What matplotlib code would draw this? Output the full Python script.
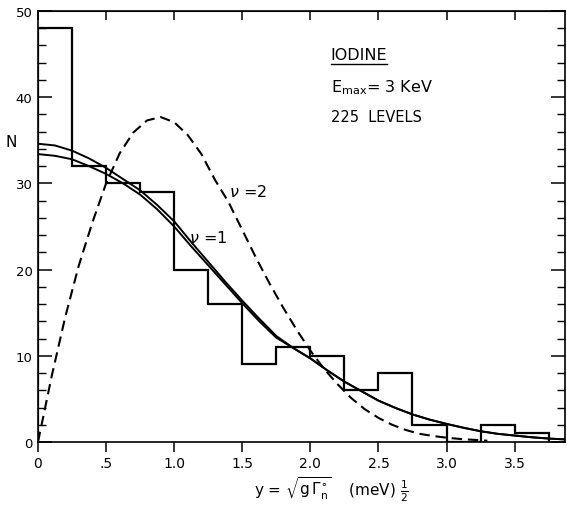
import numpy as np
import matplotlib
matplotlib.use('Agg')
import matplotlib.pyplot as plt
from matplotlib.lines import Line2D

# histogram of reduced widths, bins of 0.25
bin_edges = [0, 0.25, 0.5, 0.75, 1.0, 1.25, 1.5, 1.75, 2.0, 2.25, 2.5, 2.75, 3.0, 3.25, 3.5, 3.75]
counts = [48, 32, 30, 29, 20, 16, 9, 11, 10, 6, 8, 2, 0, 2, 1]

# nu=1 curves (two solid lines)
y_nu1 = [0, 0.125, 0.25, 0.375, 0.5, 0.625, 0.75, 0.875, 1.0, 1.125, 1.25, 1.375, 1.5, 1.625,
         1.75, 1.875, 2.0, 2.125, 2.25, 2.375, 2.5, 2.625, 2.75, 2.875, 3.0, 3.125, 3.25,
         3.375, 3.5, 3.625, 3.75, 3.87]
n_nu1_a = [34.6, 34.4, 33.8, 32.9, 31.8, 30.5, 29.2, 27.5, 25.6, 23.2, 20.9, 18.6, 16.4, 14.3,
           12.3, 10.9, 9.7, 8.3, 7.0, 5.9, 4.8, 3.95, 3.2, 2.6, 2.1, 1.65, 1.25,
           0.95, 0.75, 0.55, 0.4, 0.3]
n_nu1_b = [33.4, 33.2, 32.8, 32.0, 31.1, 30.0, 28.7, 27.0, 25.0, 22.7, 20.5, 18.3, 16.1, 14.0,
           12.1, 10.9, 9.7, 8.3, 7.0, 5.9, 4.8, 3.95, 3.2, 2.6, 2.1, 1.65, 1.25,
           0.95, 0.75, 0.55, 0.4, 0.3]

# nu=2 curve (dashed)
y_nu2 = [0, 0.1, 0.2, 0.3, 0.4, 0.5, 0.6, 0.7, 0.8, 0.9, 1.0, 1.1, 1.2, 1.3, 1.4, 1.5, 1.6,
         1.7, 1.8, 1.9, 2.0, 2.1, 2.2, 2.3, 2.4, 2.5, 2.6, 2.7, 2.8, 2.9, 3.0, 3.1, 3.2, 3.3]
n_nu2 = [0, 7.6, 14.5, 20.5, 25.5, 30.0, 33.5, 35.9, 37.3, 37.7, 37.1, 35.6, 33.4, 30.4, 27.8,
         24.6, 21.4, 18.4, 15.6, 13.0, 10.6, 8.5, 6.7, 5.1, 3.8, 2.8, 2.0, 1.4, 0.95, 0.7,
         0.5, 0.35, 0.25, 0.15]

xticks = [0, 0.5, 1.0, 1.5, 2.0, 2.5, 3.0, 3.5]
xtick_labels = ['0', '.5', '1.0', '1.5', '2.0', '2.5', '3.0', '3.5']
yticks = [0, 10, 20, 30, 40, 50]

fig = plt.figure(figsize=(5.67, 5.06), dpi=100)
ax = fig.add_axes([38/567, 63/506, 527/567, 431/506])

ax.stairs(counts, bin_edges, baseline=0, color='black', lw=1.6)
ax.plot(y_nu1, n_nu1_a, color='black', lw=1.4)
ax.plot(y_nu1, n_nu1_b, color='black', lw=1.4)
ax.plot(y_nu2, n_nu2, color='black', lw=1.5, dashes=(5, 2.8))

ax.set_xlim(0, 3.87)
ax.set_ylim(0, 50)

for sp in ax.spines.values():
    sp.set_linewidth(1.2)

ax.set_xticks(xticks)
ax.set_xticklabels(xtick_labels, fontsize=10)
ax.tick_params(axis='x', direction='out', length=7, width=1.1, pad=3)
ax.set_yticks(yticks)
ax.set_yticklabels([str(v) for v in yticks], fontsize=9.5)
ax.set_yticks(np.arange(0, 51, 2), minor=True)
ax.tick_params(axis='y', which='major', direction='in', length=10, width=1.1, right=True, pad=4)
ax.tick_params(axis='y', which='minor', direction='in', length=6, width=1.0, right=True)

top = ax.secondary_xaxis('top')
top.set_xticks(xticks)
top.set_xticklabels([])
top.tick_params(direction='in', length=6.5, width=1.1)

ax.set_ylabel('N', rotation=0, fontsize=11)
ax.yaxis.set_label_coords(-0.05, 0.68)

fig.text(0.585, 0.032,
         r'y = $\sqrt{\mathrm{g}\,\Gamma_\mathrm{n}^{\circ}}$    (meV) $\frac{1}{2}$',
         fontsize=11, ha='center', va='center')

t = ax.text(2.15, 45.0, 'IODINE', fontsize=11.5, va='center')
ax.text(2.15, 41.2, r'$\mathregular{E_{max}}$= 3 KeV', fontsize=11.5, va='center')
ax.text(2.15, 37.8, '225  LEVELS', fontsize=10.5, va='center')

ax.text(1.40, 29.1, r'$\nu$ =2', fontsize=11.5, va='center')
ax.text(1.11, 23.8, r'$\nu$ =1', fontsize=11.5, va='center')

# underline under IODINE
fig.canvas.draw()
bb = t.get_window_extent(renderer=fig.canvas.get_renderer())
fb = bb.transformed(fig.transFigure.inverted())
fig.add_artist(Line2D([fb.x0, fb.x1], [fb.y0 - 0.004, fb.y0 - 0.004],
                      transform=fig.transFigure, color='black', lw=1.0))

fig.savefig('out.png', dpi=100)
